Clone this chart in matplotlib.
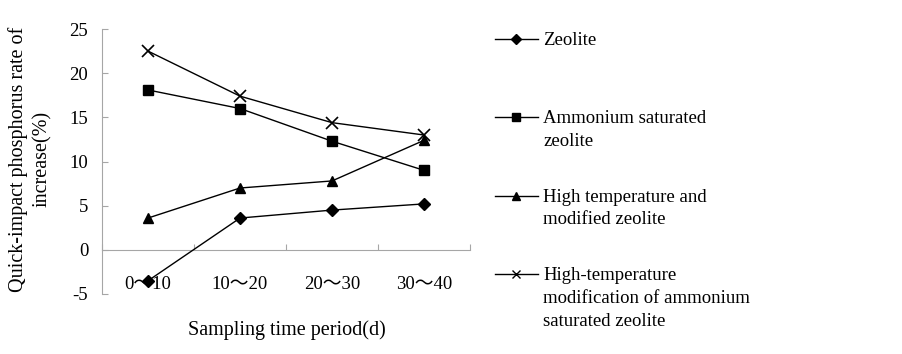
import matplotlib.pyplot as plt
from matplotlib.lines import Line2D

# data
periods = ["0～10", "10～20", "20～30", "30～40"]
zeolite = [-3.5, 3.6, 4.5, 5.2]
ammonium = [18.1, 16.0, 12.3, 9.0]
high_temp = [3.6, 7.0, 7.8, 12.4]
high_temp_ammonium = [22.5, 17.4, 14.4, 13.0]

labels = ["Zeolite",
          "Ammonium saturated\nzeolite",
          "High temperature and\nmodified zeolite",
          "High-temperature\nmodification of ammonium\nsaturated zeolite"]
markers = ["D", "s", "^", "x"]
msizes = [6, 7, 7.5, 8]

plt.rcParams['font.family'] = ['Liberation Serif', 'Noto Sans CJK SC']
plt.rcParams['axes.unicode_minus'] = False
fs = 13.5
axis_gray = '#a6a6a6'

fig = plt.figure(figsize=(9.03, 3.54), dpi=100)
ax = fig.add_axes([0.113, 0.1695, 0.4075, 0.7485])

x = list(range(len(periods)))
series = [zeolite, ammonium, high_temp, high_temp_ammonium]
for vals, m, ms in zip(series, markers, msizes):
    ax.plot(x, vals, color='black', lw=1, marker=m, markersize=ms,
            markerfacecolor='black', markeredgecolor='black', mew=1.2 if m == 'x' else 1,
            zorder=3)

ax.set_xlim(-0.5, 3.5)
ax.set_ylim(-5, 25)
ax.set_yticks(range(-5, 26, 5))
ax.tick_params(axis='y', direction='in', length=4, width=0.8, color=axis_gray,
               labelsize=fs, pad=10)

for s in ['top', 'right']:
    ax.spines[s].set_visible(False)
ax.spines['left'].set_color(axis_gray)
ax.spines['left'].set_linewidth(0.8)
ax.spines['bottom'].set_position(('data', 0))
ax.spines['bottom'].set_color(axis_gray)
ax.spines['bottom'].set_linewidth(0.8)
ax.set_xticks([-0.5, 0.5, 1.5, 2.5, 3.5])
ax.set_xticklabels([])
ax.tick_params(axis='x', direction='in', length=4, width=0.8, color=axis_gray)

# category labels sit low inside the plot area, like the original
sec = ax.secondary_xaxis(0.036)
sec.set_xticks(x)
sec.set_xticklabels(periods, fontsize=fs, va='center')
sec.tick_params(length=0, pad=0)
sec.spines['bottom'].set_visible(False)

fig.text(286.5 / 903, 1 - 330 / 354, "Sampling time period(d)", fontsize=14.5,
         ha='center', va='center')
fig.text(30 / 903, 1 - 159 / 354, "Quick-impact phosphorus rate of\nincrease(%)",
         fontsize=14.5, rotation=90, ha='center', va='center', multialignment='center',
         linespacing=1.35)

# legend drawn manually so handle sits beside first line of each label
for i, (lab, m, ms) in enumerate(zip(labels, markers, msizes)):
    ypix = 354 - (39 + i * 78.3)
    yf = ypix / 354
    fig.add_artist(Line2D([495 / 903, 538 / 903], [yf, yf], color='black', lw=1))
    fig.add_artist(Line2D([516.5 / 903], [yf], color='black', marker=m,
                          markersize=ms * 0.8, markerfacecolor='black', lw=0))
    fig.text(543 / 903, yf + 7 / 354, lab, fontsize=fs, va='top', ha='left',
             linespacing=1.45)

fig.savefig("out.png", dpi=100)
